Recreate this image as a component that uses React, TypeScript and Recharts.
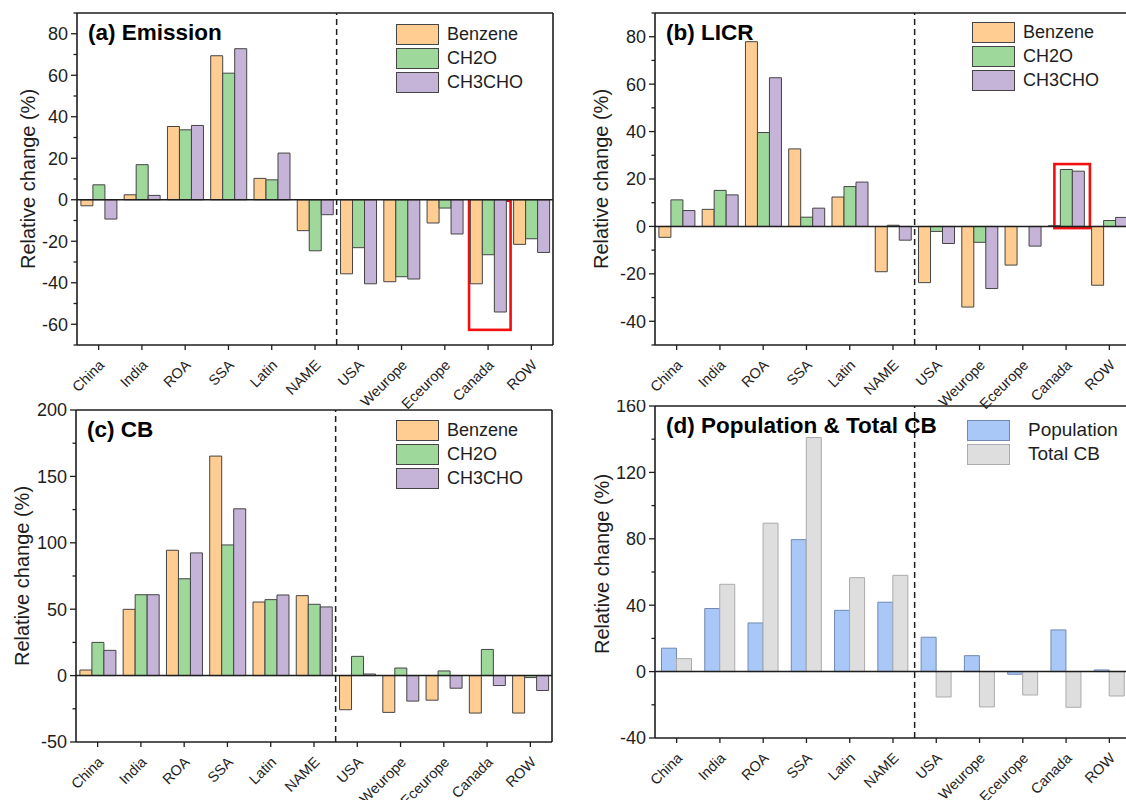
import { Bar, BarChart, Legend, ReferenceArea, ReferenceLine, XAxis, YAxis } from "recharts";

const regions = ["China", "India", "ROA", "SSA", "Latin", "NAME", "USA", "Weurope", "Eceurope", "Canada", "ROW"];

// (a) Emission
const emisBenzene = [-2.9, 2.4, 35.3, 69.4, 10.3, -14.9, -35.7, -39.5, -11.2, -40.5, -21.5];
const emisCH2O = [7.2, 16.9, 33.7, 61.0, 9.6, -24.6, -23.1, -37.1, -4.0, -26.5, -18.8];
const emisCH3CHO = [-9.3, 2.1, 35.8, 72.8, 22.5, -7.2, -40.5, -38.2, -16.5, -54.1, -25.4];

// (b) LICR
const licrBenzene = [-4.6, 7.2, 77.9, 32.7, 12.4, -19.1, -23.7, -34.0, -16.3, 0.3, -24.8];
const licrCH2O = [11.2, 15.2, 39.6, 3.9, 16.8, 0.5, -2.1, -6.7, 0, 24.0, 2.5];
const licrCH3CHO = [6.7, 13.3, 62.7, 7.7, 18.7, -5.8, -7.2, -26.2, -8.3, 23.3, 3.8];

// (c) CB
const cbBenzene = [4.2, 49.9, 94.4, 165.3, 55.4, 60.2, -25.7, -27.7, -18.5, -28.2, -28.2];
const cbCH2O = [25.0, 60.9, 72.9, 98.4, 57.2, 53.7, 14.5, 5.7, 3.5, 19.7, -1.5];
const cbCH3CHO = [19.0, 60.9, 92.4, 125.6, 60.7, 51.7, 1.2, -19.2, -9.5, -7.5, -11.2];

// (d) Population & Total CB
const population = [14.1, 38.0, 29.3, 79.5, 36.9, 41.8, 20.7, 9.6, -1.6, 25.1, 1.0];
const totalCB = [7.8, 52.6, 89.4, 141.0, 56.6, 58.0, -15.3, -21.3, -14.1, -21.5, -14.7];

const FONT = "Arial, 'Liberation Sans', Helvetica, sans-serif";
const INK = "#1e1e1e";

const vocSeries = [
  { key: "Benzene", fill: "#ffcc91", stroke: "#454545" },
  { key: "CH2O", fill: "#9ed89b", stroke: "#454545" },
  { key: "CH3CHO", fill: "#c6b4d8", stroke: "#454545" },
];
const popSeries = [
  { key: "Population", fill: "#a9c8f8", stroke: "#7089b3" },
  { key: "Total CB", fill: "#dedede", stroke: "#ababab" },
];

function rows(cols: Record<string, number[]>) {
  return regions.map((r, i) => {
    const row: Record<string, any> = { region: r };
    for (const k of Object.keys(cols)) row[k] = cols[k][i];
    return row;
  });
}

const YTick = (props: any) => {
  const { x, y, payload, major } = props;
  const v = payload.value;
  const isMajor = Math.abs(v % major) < 1e-6;
  return (
    <g>
      <line x1={x + 9 - (isMajor ? 6 : 3.5)} x2={x + 9} y1={y} y2={y} stroke={INK} strokeWidth={1.3} />
      {isMajor && (
        <text x={x} y={y} dy="0.36em" textAnchor="end" fontSize={18} fill={INK} fontFamily={FONT}>
          {v}
        </text>
      )}
    </g>
  );
};

const XTick = (props: any) => {
  const { x, y, payload } = props;
  return (
    <text
      transform={`translate(${x + 6.5}, ${y + 14}) rotate(-45)`}
      textAnchor="end"
      fontSize={14.5}
      fill={INK}
      fontFamily={FONT}
    >
      {payload.value}
    </text>
  );
};

// red highlight box, given in fractions of the band of the highlighted region
const HighlightBox = (props: any) => {
  const { x, y, width, height, l, r } = props;
  return (
    <rect
      x={x + l * width}
      y={y}
      width={(r - l) * width}
      height={height}
      fill="none"
      stroke="#f01010"
      strokeWidth={2.6}
    />
  );
};

interface PanelProps {
  left: number;
  top: number;
  width: number;
  marginTop: number;
  yWidth: number;
  xHeight: number;
  domain: [number, number];
  step: number;
  major: number;
  data: any[];
  series: { key: string; fill: string; stroke: string }[];
  gap: string;
  title: string;
  legend: { left: number; top: number; textGap: number; fontSize: number };
  box?: { region: string; l: number; r: number; y1: number; y2: number };
  labelDx: number;
  labelDy: number;
}

function Panel(p: PanelProps) {
  const ticks: number[] = [];
  for (let v = p.domain[0]; v <= p.domain[1] + 1e-6; v += p.step) ticks.push(v);
  const legendContent = () => (
    <div style={{ fontFamily: FONT, fontSize: p.legend.fontSize, color: INK }}>
      {p.series.map((s) => (
        <div key={s.key} style={{ display: "flex", alignItems: "center", height: 24.3 }}>
          <div
            style={{
              width: 41,
              height: 19,
              background: s.fill,
              border: `1.2px solid ${s.stroke}`,
              marginRight: p.legend.textGap,
            }}
          />
          <span>{s.key}</span>
        </div>
      ))}
    </div>
  );
  const H = 425;
  return (
    <div style={{ position: "absolute", left: p.left, top: p.top, width: p.width, height: H }}>
      <BarChart
        width={p.width}
        height={H}
        data={p.data}
        margin={{ top: p.marginTop, right: 10, bottom: H - 400, left: 0 }}
        barCategoryGap={p.gap}
        barGap={0}
        style={{ fontFamily: FONT }}
      >
        <XAxis
          dataKey="region"
          height={p.xHeight}
          axisLine={false}
          tickSize={5}
          tickMargin={2}
          tickLine={{ stroke: INK, strokeWidth: 1.3 }}
          interval={0}
          tick={(t: any) => <XTick {...t} />}
        />
        <YAxis
          width={p.yWidth}
          domain={p.domain}
          ticks={ticks}
          interval={0}
          allowDataOverflow
          axisLine={false}
          tickLine={false}
          tickSize={7}
          tickMargin={2}
          tick={(t: any) => <YTick {...t} major={p.major} />}
          label={{
            value: "Relative change (%)",
            angle: -90,
            position: "center",
            dx: p.labelDx,
            dy: p.labelDy,
            style: { fontSize: 20, fill: INK, fontFamily: FONT },
          }}
        />
        <Legend
          layout="vertical"
          align="center"
          verticalAlign="middle"
          content={legendContent}
          wrapperStyle={{ left: p.legend.left, top: p.legend.top, width: "auto", height: "auto" }}
        />
        {p.series.map((s) => (
          <Bar
            key={s.key}
            dataKey={s.key}
            fill={s.fill}
            stroke={s.stroke}
            strokeWidth={1}
            isAnimationActive={false}
          />
        ))}
        <ReferenceLine y={0} stroke={INK} strokeWidth={1.5} />
        <ReferenceLine x="NAME" position="end" stroke={INK} strokeWidth={1.5} strokeDasharray="6 4" />
        {/* frame */}
        <ReferenceLine y={p.domain[1]} stroke={INK} strokeWidth={1.6} />
        <ReferenceLine y={p.domain[0]} stroke={INK} strokeWidth={1.6} />
        <ReferenceLine x="China" position="start" stroke={INK} strokeWidth={1.6} />
        <ReferenceLine x="ROW" position="end" stroke={INK} strokeWidth={1.6} />
        {p.box && (
          <ReferenceArea
            x1={p.box.region}
            x2={p.box.region}
            y1={p.box.y1}
            y2={p.box.y2}
            ifOverflow="visible"
            shape={(s: any) => <HighlightBox {...s} l={p.box!.l} r={p.box!.r} />}
          />
        )}
      </BarChart>
      <div
        style={{
          position: "absolute",
          left: p.yWidth + 11,
          top: p.marginTop + 9,
          fontFamily: FONT,
          fontWeight: "bold",
          fontSize: 22.5,
          color: "#000",
          whiteSpace: "nowrap",
          lineHeight: 1,
        }}
      >
        {p.title}
      </div>
    </div>
  );
}

export default function App() {
  const emission = rows({ Benzene: emisBenzene, CH2O: emisCH2O, CH3CHO: emisCH3CHO });
  const licr = rows({ Benzene: licrBenzene, CH2O: licrCH2O, CH3CHO: licrCH3CHO });
  const cb = rows({ Benzene: cbBenzene, CH2O: cbCH2O, CH3CHO: cbCH3CHO });
  const pop = rows({ Population: population, "Total CB": totalCB });
  return (
    <div
      style={{
        position: "absolute",
        left: 0,
        top: 0,
        width: 1126,
        height: 800,
        overflow: "hidden",
        background: "#fff",
      }}
    >
      <Panel
        left={0}
        top={400}
        width={562}
        marginTop={10}
        yWidth={76}
        xHeight={58}
        domain={[-50, 200]}
        step={25}
        major={50}
        data={cb}
        series={vocSeries}
        gap="9%"
        title="(c) CB"
        legend={{ left: 396, top: 18, textGap: 8, fontSize: 18 }}
        labelDx={-16}
        labelDy={0}
      />
      <Panel
        left={563}
        top={400}
        width={578}
        marginTop={6}
        yWidth={92}
        xHeight={62}
        domain={[-40, 160]}
        step={20}
        major={40}
        data={pop}
        series={popSeries}
        gap="15%"
        title="(d) Population & Total CB"
        legend={{ left: 404, top: 18, textGap: 18, fontSize: 19 }}
        labelDx={-7}
        labelDy={-8}
      />
      <Panel
        left={0}
        top={0}
        width={563}
        marginTop={13}
        yWidth={77}
        xHeight={55}
        domain={[-70, 90]}
        step={10}
        major={20}
        data={emission}
        series={vocSeries}
        gap="9%"
        title="(a) Emission"
        legend={{ left: 396, top: 22, textGap: 8, fontSize: 18 }}
        box={{ region: "Canada", l: 0.06, r: 1.02, y1: -62.7, y2: -0.5 }}
        labelDx={-11}
        labelDy={0}
      />
      <Panel
        left={563}
        top={0}
        width={578}
        marginTop={13}
        yWidth={92}
        xHeight={55}
        domain={[-50, 90]}
        step={10}
        major={20}
        data={licr}
        series={vocSeries}
        gap="9%"
        title="(b) LICR"
        legend={{ left: 409, top: 20, textGap: 8, fontSize: 18 }}
        box={{ region: "Canada", l: 0.23, r: 1.05, y1: -0.7, y2: 26.3 }}
        labelDx={-8}
        labelDy={0}
      />
    </div>
  );
}
